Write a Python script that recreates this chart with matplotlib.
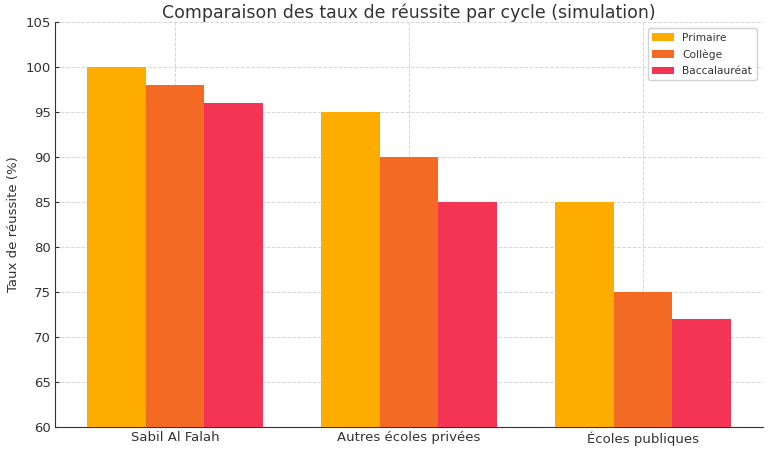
import matplotlib
matplotlib.use("Agg")
import matplotlib.pyplot as plt
import numpy as np

categories = ["Sabil Al Falah", "Autres écoles privées", "Écoles publiques"]
primaire = [100, 95, 85]
college = [98, 90, 75]
bac = [96, 85, 72]
series_names = ["Primaire", "Collège", "Baccalauréat"]
colors = ["#FFAC00", "#F26A23", "#F43455"]

fig = plt.figure(figsize=(7.7, 4.49), dpi=100)
ax = fig.add_axes([55/770, 22/449, 708/770, 405/449])
x = np.arange(len(categories))
w = 0.25
for i, (vals, name, c) in enumerate(zip([primaire, college, bac], series_names, colors)):
    ax.bar(x + (i - 1) * w, vals, w, label=name, color=c, zorder=3)

ax.set_ylim(60, 105)
ax.set_xticks(x)
ax.set_xticklabels(categories, fontsize=9.5, color="#333333")
ax.tick_params(axis="both", direction="in", length=3, pad=3, colors="#333333", labelsize=9.5)
ax.set_ylabel("Taux de réussite (%)", fontsize=9.5, color="#333333", labelpad=4)
ax.set_title("Comparaison des taux de réussite par cycle (simulation)", fontsize=12.5, color="#333333", pad=2.5)
ax.grid(True, linestyle="--", color="#cccccc", linewidth=0.7, alpha=0.8, zorder=0)
ax.spines["top"].set_visible(False)
ax.spines["right"].set_visible(False)
ax.spines["left"].set_color("#333333")
ax.spines["bottom"].set_color("#333333")
leg = ax.legend(loc="upper right", fontsize=7.7, framealpha=0.9, labelspacing=0.6,
                borderaxespad=0.6)
for t in leg.get_texts():
    t.set_color("#333333")
fig.savefig("out.png", dpi=100)
